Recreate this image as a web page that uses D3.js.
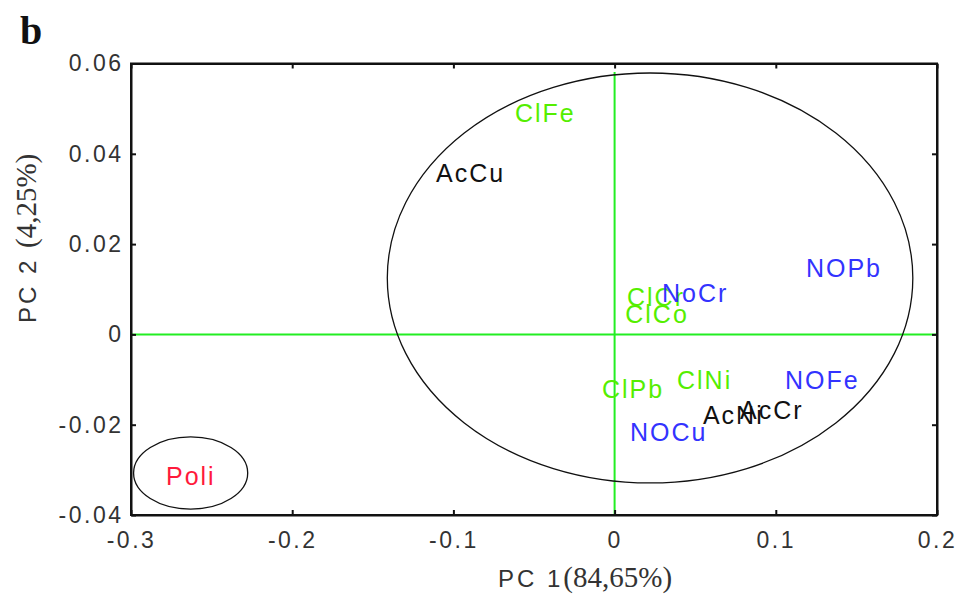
<!DOCTYPE html>
<html><head><meta charset="utf-8">
<script src="https://cdn.jsdelivr.net/npm/d3@7"></script>
<style>body{margin:0;background:#fff;} svg{display:block;}</style>
</head><body>
<script>
const labels = ["ClFe","AcCu","ClCr","NoCr","ClCo","NOPb","ClPb","ClNi","NOFe","AcNi","AcCr","NOCu","Poli"];
const pc1 =    [-0.0618,-0.1108,0.0077,0.0294,0.0066,0.1187,-0.0078,0.0387,0.1057,0.0548,0.0778,0.0096,-0.2783];
const pc2 =    [0.0490,0.0357,0.0083,0.0092,0.0045,0.0147,-0.0121,-0.0101,-0.0101,-0.0178,-0.0167,-0.0216,-0.0314];
const group =  ["Cl","Ac","Cl","NO","Cl","NO","Cl","Cl","NO","Ac","Ac","NO","Poli"];
const xTicks = [-0.3,-0.2,-0.1,0,0.1,0.2];
const yTicks = [-0.04,-0.02,0,0.02,0.04,0.06];
const ellipses = [{cx:0.022,cy:0.0125,rx:0.163,ry:0.0454},{cx:-0.263,cy:-0.0307,rx:0.0354,ry:0.008}];
const colors = {Cl:"#55ee00",Ac:"#111111",NO:"#3333ff",Poli:"#ff1a3c"};

const W=958,H=594;
const svg=d3.select("body").append("svg").attr("width",W).attr("height",H);
const x=d3.scaleLinear().domain([-0.3,0.2]).range([131,937]);
const y=d3.scaleLinear().domain([-0.04,0.06]).range([515,63.5]);
const sans="Liberation Sans, Arial, sans-serif";
const serif="Liberation Serif, Times New Roman, serif";

// green reference lines
svg.append("line").attr("x1",x(0)).attr("x2",x(0)).attr("y1",72).attr("y2",y(-0.04)).attr("stroke","#22ee22").attr("stroke-width",2);
svg.append("line").attr("x1",x(-0.3)).attr("x2",x(0.2)).attr("y1",y(0)).attr("y2",y(0)).attr("stroke","#22ee22").attr("stroke-width",2);

// ellipses
svg.selectAll("ellipse").data(ellipses).enter().append("ellipse")
  .attr("cx",d=>x(d.cx)).attr("cy",d=>y(d.cy))
  .attr("rx",d=>x(d.cx+d.rx)-x(d.cx)).attr("ry",d=>y(d.cy)-y(d.cy+d.ry))
  .attr("fill","none").attr("stroke","#111").attr("stroke-width",1.3);

// axes
const xAx=svg.append("g").attr("transform",`translate(0,${y(-0.04)})`)
  .call(d3.axisBottom(x).tickValues(xTicks).tickSizeInner(-5).tickSizeOuter(0).tickPadding(17).tickFormat(d=>d===0?"0":(+d.toFixed(1)).toString()));
const xTop=svg.append("g").attr("transform",`translate(0,${y(0.06)})`)
  .call(d3.axisTop(x).tickValues(xTicks).tickSizeInner(-5).tickSizeOuter(0).tickFormat(""));
const yAx=svg.append("g").attr("transform",`translate(${x(-0.3)},0)`)
  .call(d3.axisLeft(y).tickValues(yTicks).tickSizeInner(-5).tickSizeOuter(0).tickPadding(7.5).tickFormat(d=>d===0?"0":d.toFixed(2)));
const yRight=svg.append("g").attr("transform",`translate(${x(0.2)},0)`)
  .call(d3.axisRight(y).tickValues(yTicks).tickSizeInner(-5).tickSizeOuter(0).tickFormat(""));
[xAx,xTop,yAx,yRight].forEach(g=>{
  g.select(".domain").attr("stroke","#111").attr("stroke-width",2);
  g.selectAll(".tick line").attr("stroke","#111").attr("stroke-width",2);
  g.selectAll(".tick text").attr("fill","#333").style("font-family",sans).style("font-size","23px").style("letter-spacing","2.5px");
});
// box frame
svg.append("rect").attr("x",x(-0.3)).attr("y",y(0.06)).attr("width",x(0.2)-x(-0.3)).attr("height",y(-0.04)-y(0.06))
  .attr("fill","none").attr("stroke","#111").attr("stroke-width",2);

// labels
svg.selectAll("text.pt").data(labels).enter().append("text").attr("class","pt")
  .attr("x",(d,i)=>x(pc1[i])).attr("y",(d,i)=>y(pc2[i]))
  .attr("dy","0.36em").attr("fill",(d,i)=>colors[group[i]])
  .style("font-family",sans).style("font-size","25px").style("letter-spacing","2px")
  .text(d=>d);

// axis titles
const xt=svg.append("text").attr("x",498).attr("y",587).attr("fill","#333");
xt.append("tspan").style("font-family",sans).style("font-size","24px").style("letter-spacing","3px").text("PC 1");
xt.append("tspan").style("font-family",serif).style("font-size","29px").text("(84,65%)");
const yt=svg.append("text").attr("transform","translate(36,323) rotate(-90)").attr("fill","#333");
yt.append("tspan").style("font-family",sans).style("font-size","24px").style("letter-spacing","3px").text("PC 2 ");
yt.append("tspan").style("font-family",serif).style("font-size","29px").text("(4,25%)");

svg.append("text").attr("x",20).attr("y",44).style("font-family",serif)
  .style("font-weight","bold").style("font-size","40px").attr("fill","#111").text("b");
</script>
</body></html>
